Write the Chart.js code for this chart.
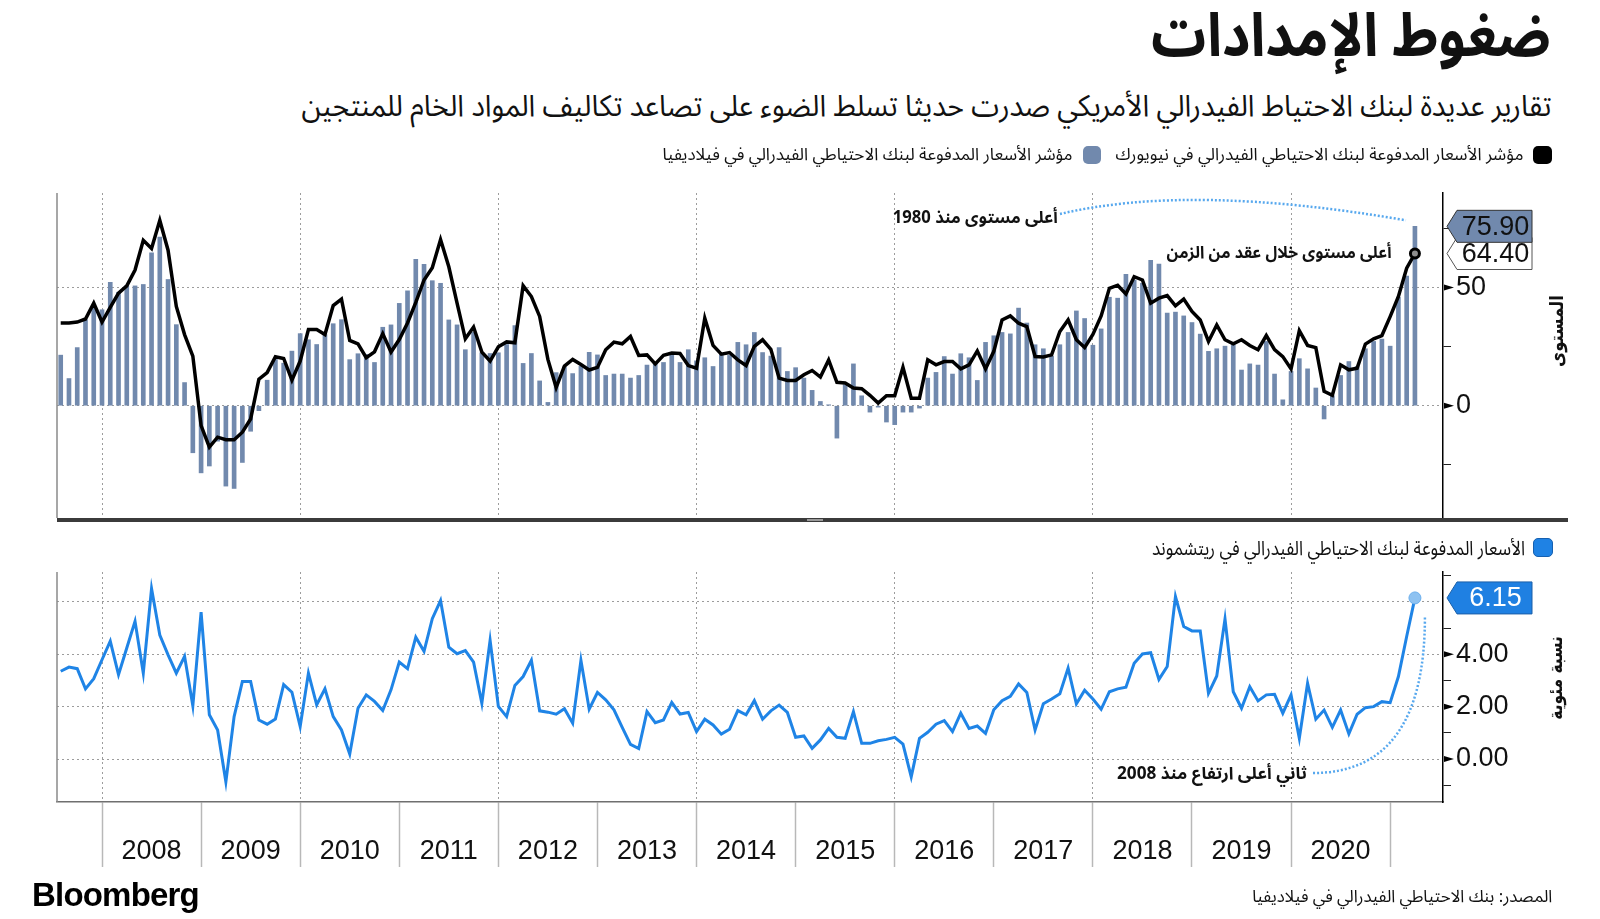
<!DOCTYPE html>
<html lang="ar">
<head>
<meta charset="utf-8">
<script src="https://cdn.jsdelivr.net/npm/chart.js@4.4.1/dist/chart.umd.min.js"></script>
<style>
  body { margin:0; width:1600px; height:919px; background:#fff; position:relative; overflow:hidden; }
  canvas { position:absolute; left:0; z-index:0; }
  .t { position:absolute; white-space:nowrap; z-index:2; color:#111; font-family:"Noto Sans Arabic","DejaVu Sans",sans-serif; transform-origin:right center; }
  .sq { position:absolute; border-radius:5px; z-index:2; }
  .vt { position:absolute; white-space:nowrap; z-index:2; font-family:"DejaVu Sans",sans-serif; font-weight:bold; color:#111; }
</style>
</head>
<body>
<div class="t" dir="rtl" data-w="400" style="right:49px; top:0px; font-size:60px; line-height:74px; font-weight:bold;">ضغوط الإمدادات</div>
<div class="t" dir="rtl" data-w="1250" style="right:49px; top:88px; font-size:30px; line-height:38px;">تقارير عديدة لبنك الاحتياط الفيدرالي الأمريكي صدرت حديثا تسلط الضوء على تصاعد تكاليف المواد الخام للمنتجين</div>

<div class="sq" style="left:1533px; top:146px; width:19px; height:18px; background:#000;"></div>
<div class="t" dir="rtl" data-w="408" style="right:77px; top:143px; font-size:17px; line-height:24px;">مؤشر الأسعار المدفوعة لبنك الاحتياطي الفيدرالي في نيويورك</div>
<div class="sq" style="left:1083px; top:146px; width:18px; height:18px; background:#7189ad;"></div>
<div class="t" dir="rtl" data-w="410" style="right:527px; top:143px; font-size:17px; line-height:24px;">مؤشر الأسعار المدفوعة لبنك الاحتياطي الفيدرالي في فيلاديفيا</div>

<div class="t" dir="rtl" data-w="165" style="right:542px; top:206px; font-size:17px; line-height:24px; font-weight:bold;">أعلى مستوى منذ 1980</div>
<div class="t" dir="rtl" data-w="225" style="right:208px; top:241px; font-size:17px; line-height:24px; font-weight:bold;">أعلى مستوى خلال عقد من الزمن</div>
<div class="vt" id="ttl1" dir="rtl" data-len="72" style="left:1556px; top:331px; font-size:19px;">المستوى</div>

<div class="sq" style="left:1533px; top:538px; width:18px; height:17px; background:#1f82e4; border:1px solid #1660b0;"></div>
<div class="t" dir="rtl" data-w="373" style="right:75px; top:536px; font-size:20px; line-height:26px;">الأسعار المدفوعة لبنك الاحتياطي الفيدرالي في ريتشموند</div>
<div class="t" dir="rtl" data-w="190" style="right:293px; top:762px; font-size:17px; line-height:24px; font-weight:bold;">ثاني أعلى ارتفاع منذ 2008</div>
<div class="vt" id="ttl2" dir="rtl" data-len="83" style="left:1555px; top:678px; font-size:19px;">نسبة مئوية</div>

<div style="position:absolute; left:32px; top:876px; font:bold 33px 'Liberation Sans',Arial,sans-serif; letter-spacing:-0.8px; color:#000; z-index:2;">Bloomberg</div>
<div class="t" dir="rtl" data-w="300" style="right:48px; top:885px; font-size:17px; line-height:24px;">المصدر: بنك الاحتياطي الفيدرالي في فيلاديفيا</div>

<canvas id="topChart" width="1600" height="400" style="top:150px; width:1600px; height:400px;"></canvas>
<canvas id="bottomChart" width="1600" height="370" style="top:530px; width:1600px; height:370px;"></canvas>

<script>
// monthly readings, first month = Jul 2007, last = Mar 2021
const startMonth = '2007-07';

// Philadelphia Fed prices paid index (bars)
const phillyPaid = [
  21.4, 11.5, 24.6, 36.4, 41.6, 40.6,
  52.2, 48.0, 50.7, 50.7, 51.3, 64.7, 71.4, 53.4, 34.3, 9.8, -19.9, -28.4,
  -25.5, -15.0, -34.0, -35.0, -24.0, -10.8, -2.1, 10.8, 19.6, 18.0, 23.1, 30.5,
  27.9, 25.9, 30.1, 34.7, 36.4, 19.5, 22.0, 21.7, 18.3, 33.2, 34.2, 43.3,
  48.6, 61.9, 59.8, 52.9, 51.8, 36.3, 34.2, 23.7, 31.1, 22.4, 22.1, 22.4,
  25.9, 33.9, 17.9, 22.1, 10.5, 1.4, 14.0, 16.4, 13.6, 16.7, 22.6, 21.5,
  12.8, 13.4, 13.4, 11.7, 12.8, 17.2, 18.3, 18.3, 21.5, 18.3, 23.7, 19.0,
  20.3, 16.6, 21.8, 21.3, 26.8, 25.8, 31.0, 22.5, 21.0, 24.6, 14.5, 16.1,
  11.7, 6.5, 1.8, 0.4, -13.7, 8.9, 17.7, 4.2, -2.7, -0.6, -6.9, -8.0,
  -2.7, -2.7, -1.0, 11.7, 14.1, 20.8, 13.4, 22.0, 20.3, 10.7, 26.8, 29.6,
  31.0, 30.4, 41.3, 35.0, 25.8, 24.1, 21.0, 25.8, 31.0, 40.1, 36.9, 25.6,
  32.5, 45.9, 45.5, 55.6, 53.2, 51.8, 61.5, 59.9, 39.2, 39.6, 38.0, 35.2,
  30.3, 23.0, 24.1, 25.2, 25.8, 15.1, 17.7, 17.2, 27.2, 13.4, 2.5, 14.5,
  19.9, 15.6, 7.5, -5.6, 4.2, 12.8, 18.7, 16.6, 24.1, 27.2, 28.2, 25.2,
  45.9, 54.9, 75.9
];

// New York Fed (Empire State) prices paid index (black line)
const nyPaid = [
  35.0, 35.0, 35.4, 36.7, 43.4, 35.4,
  41.6, 47.6, 50.7, 57.4, 70.0, 66.5, 78.4, 65.8, 42.0, 30.1, 21.0, -8.4,
  -17.5, -13.3, -14.4, -14.4, -11.2, -5.6, 11.2, 14.0, 20.7, 20.0, 10.8, 18.9,
  32.2, 32.2, 30.1, 42.4, 45.1, 27.6, 26.2, 20.3, 22.8, 30.5, 22.7, 28.0,
  35.0, 43.7, 53.2, 58.4, 70.3, 58.8, 43.4, 28.3, 33.3, 22.7, 18.9, 24.9,
  27.0, 26.6, 50.8, 46.2, 37.8, 19.6, 7.7, 16.8, 19.6, 17.4, 15.1, 16.2,
  23.7, 26.9, 26.2, 29.3, 21.3, 21.5, 17.7, 21.3, 22.3, 22.1, 17.0, 15.9,
  37.0, 25.5, 21.8, 22.5, 19.4, 17.0, 25.1, 27.9, 23.9, 11.7, 10.7, 10.7,
  13.1, 14.9, 12.1, 19.4, 9.9, 9.6, 7.5, 7.2, 4.4, 1.1, 4.2, 4.2,
  16.3, 3.2, 3.2, 19.4, 17.3, 18.7, 18.7, 15.6, 17.3, 23.2, 15.6, 23.0,
  36.3, 38.0, 34.9, 33.5, 20.8, 20.6, 21.5, 31.4, 36.3, 27.9, 24.6, 30.2,
  38.0, 49.7, 51.0, 47.3, 54.6, 53.2, 43.4, 45.5, 46.6, 42.3, 45.1, 39.9,
  36.3, 27.2, 34.2, 27.9, 26.2, 27.9, 25.5, 23.7, 29.7, 23.7, 20.8, 15.6,
  31.8, 25.5, 24.6, 6.1, 4.4, 17.3, 15.2, 15.9, 26.1, 28.3, 29.7, 37.7,
  46.2, 58.2, 64.4
];

// Richmond Fed prices paid, percent (blue line)
const richmondPaid = [
  3.35, 3.51, 3.45, 2.68, 3.07, 3.79,
  4.50, 3.22, 4.24, 5.26, 3.28, 6.51, 4.73, 3.98, 3.28, 3.92, 2.03, 5.61,
  1.69, 1.11, -0.87, 1.62, 2.96, 2.96, 1.49, 1.33, 1.53, 2.84, 2.55, 1.24,
  3.28, 2.07, 2.68, 1.62, 1.11, 0.19, 1.94, 2.45, 2.20, 1.85, 2.64, 3.70,
  3.45, 4.65, 4.11, 5.36, 6.05, 4.27, 4.02, 4.14, 3.70, 2.13, 4.53, 2.01,
  1.62, 2.81, 3.15, 3.77, 1.84, 1.79, 1.71, 1.92, 1.37, 3.77, 1.90, 2.54,
  2.26, 1.88, 1.21, 0.56, 0.40, 1.81, 1.39, 1.49, 2.16, 1.72, 1.78, 1.05,
  1.52, 1.30, 0.95, 1.14, 1.85, 1.69, 2.23, 1.52, 1.84, 2.06, 1.78, 0.83,
  0.88, 0.41, 0.73, 1.17, 0.83, 0.79, 1.81, 0.60, 0.60, 0.70, 0.75, 0.83,
  0.57, -0.68, 0.79, 1.02, 1.33, 1.47, 1.05, 1.75, 1.17, 1.26, 0.98, 1.88,
  2.23, 2.39, 2.87, 2.54, 1.11, 2.11, 2.29, 2.49, 3.47, 2.11, 2.63, 2.29,
  1.90, 2.57, 2.68, 2.74, 3.66, 4.01, 4.06, 3.04, 3.53, 6.20, 5.06, 4.89,
  4.89, 2.51, 3.17, 5.35, 2.57, 1.94, 2.76, 2.22, 2.45, 2.47, 1.75, 2.45,
  0.79, 2.89, 1.52, 1.87, 1.21, 1.87, 0.96, 1.71, 1.96, 2.00, 2.19, 2.15,
  3.15, 4.68, 6.15
];

const yearLabels = ['2008','2009','2010','2011','2012','2013','2014','2015','2016','2017','2018','2019','2020'];
const topLabelled = [0, 50];
const topMinor = [-25, 25, 75];
const bottomLabelled = [0, 2, 4];
const bottomMinor = [-1, 1, 3, 5, 7];

// months since Jan 2008
function monthIndex(str) {
  const [y, m] = str.split('-').map(Number);
  return (y - 2008) * 12 + (m - 1);
}
const first = monthIndex(startMonth);
// points sit at the end of each month
const xs = phillyPaid.map((_, i) => first + i + 1);
const last = xs.length - 1;

const X_MIN = -5.45, X_MAX = 162.4;
const GRID = '#9c9c9c';
const FONT_NUM = 'Liberation Sans';
// page offsets of the two canvases, used for the callout text anchors
const TOP_OFF = 150, BOT_OFF = 530;

function pointers(chart, values) {
  const { ctx, chartArea, scales: { y } } = chart;
  ctx.save();
  ctx.fillStyle = '#000';
  values.forEach(v => {
    const py = y.getPixelForValue(v);
    ctx.beginPath();
    ctx.moveTo(chartArea.right + 1, py - 3);
    ctx.lineTo(chartArea.right + 11, py);
    ctx.lineTo(chartArea.right + 1, py + 3);
    ctx.closePath();
    ctx.fill();
  });
  ctx.restore();
}

function valueTag(chart, value, fill, textColor, stroke) {
  const { ctx, chartArea, scales: { y } } = chart;
  const py = y.getPixelForValue(value);
  const x0 = chartArea.right + 4, x1 = x0 + 10, x2 = x0 + 85, h = 32;
  ctx.save();
  ctx.beginPath();
  ctx.moveTo(x0, py);
  ctx.lineTo(x1, py - h / 2);
  ctx.lineTo(x2, py - h / 2);
  ctx.lineTo(x2, py + h / 2);
  ctx.lineTo(x1, py + h / 2);
  ctx.closePath();
  ctx.fillStyle = fill;
  ctx.fill();
  ctx.lineWidth = 1;
  ctx.strokeStyle = stroke;
  ctx.stroke();
  ctx.fillStyle = textColor;
  ctx.font = `27px "${FONT_NUM}"`;
  ctx.textAlign = 'center';
  ctx.textBaseline = 'middle';
  ctx.fillText(value.toFixed(2), (x1 + x2) / 2 + 1, py + 1);
  ctx.restore();
}

function dottedCurve(ctx, p0, c, p1) {
  ctx.save();
  ctx.strokeStyle = '#57a8ee';
  ctx.lineWidth = 2.5;
  ctx.setLineDash([2, 2]);
  ctx.beginPath();
  ctx.moveTo(p0[0], p0[1]);
  ctx.quadraticCurveTo(c[0], c[1], p1[0], p1[1]);
  ctx.stroke();
  ctx.restore();
}

function leftRule(chart) {
  const { ctx, chartArea } = chart;
  ctx.save();
  ctx.strokeStyle = '#8a8a8a';
  ctx.lineWidth = 1.5;
  ctx.beginPath();
  ctx.moveTo(chartArea.left, chartArea.top);
  ctx.lineTo(chartArea.left, chartArea.bottom);
  ctx.stroke();
  ctx.restore();
}

const topDecor = {
  id: 'topDecor',
  afterDraw(chart) {
    const { ctx, chartArea, scales: { x, y } } = chart;
    leftRule(chart);
    pointers(chart, topLabelled);
    valueTag(chart, nyPaid[last], '#ffffff', '#111', '#555');
    valueTag(chart, phillyPaid[last], '#7189ad', '#111', '#333');
    // panel separator
    ctx.save();
    ctx.fillStyle = '#3b3b3b';
    ctx.fillRect(chartArea.left, chartArea.bottom, 1568 - chartArea.left, 4);
    ctx.fillStyle = '#9a9a9a';
    ctx.fillRect(807, chartArea.bottom + 1, 16, 2);
    ctx.restore();
    // leader from the callout to the latest Philadelphia reading
    const bx = x.getPixelForValue(xs[last]) - 9;
    const by = y.getPixelForValue(phillyPaid[last]) - 6;
    dottedCurve(ctx, [1060, 214 - TOP_OFF], [1190, 183 - TOP_OFF], [bx, by]);
  }
};

const bottomDecor = {
  id: 'bottomDecor',
  afterDraw(chart) {
    const { ctx, scales: { x, y } } = chart;
    leftRule(chart);
    pointers(chart, bottomLabelled);
    valueTag(chart, richmondPaid[last], '#1f80e2', '#ffffff', '#1a5fa8');
    const px = x.getPixelForValue(xs[last]) + 10;
    const py = y.getPixelForValue(richmondPaid[last]) + 19;
    const sy = 773 - BOT_OFF;
    dottedCurve(ctx, [1313, sy], [px, sy], [px, py]);
  }
};

const yearEdges = yearLabels.map((_, i) => i * 12).concat([yearLabels.length * 12]);
const yearMids = yearLabels.map((_, i) => i * 12 + 6);

new Chart(document.getElementById('topChart'), {
  type: 'bar',
  data: {
    datasets: [
      {
        type: 'line',
        data: xs.map((v, i) => ({ x: v, y: nyPaid[i] })),
        borderColor: '#000',
        borderWidth: 3.5,
        pointRadius: ctx => ctx.dataIndex === last ? 4.5 : 0,
        pointBackgroundColor: '#8f8f8f',
        pointBorderColor: '#000',
        pointBorderWidth: 3,
        order: 0
      },
      {
        type: 'bar',
        data: xs.map((v, i) => ({ x: v, y: phillyPaid[i] })),
        backgroundColor: '#7189ad',
        barThickness: 4,
        order: 1
      }
    ]
  },
  options: {
    responsive: false,
    animation: false,
    devicePixelRatio: 1,
    layout: { padding: { left: 57, right: 0, top: 43, bottom: 32 } },
    plugins: { legend: { display: false }, tooltip: { enabled: false } },
    scales: {
      x: {
        type: 'linear', min: X_MIN, max: X_MAX, offset: false,
        afterBuildTicks: s => { s.ticks = yearEdges.filter((_, i) => i % 2 === 0 && i < 13).map(v => ({ value: v })); },
        ticks: { display: false },
        grid: { offset: false, color: GRID, lineWidth: 1, drawTicks: false },
        border: { display: false, dash: [2, 3] },
        afterFit: s => { s.height = 0; }
      },
      y: {
        position: 'right', min: -47.5, max: 90,
        afterBuildTicks: s => { s.ticks = topMinor.concat(topLabelled).sort((a, b) => a - b).map(v => ({ value: v })); },
        ticks: {
          autoSkip: false,
          callback: v => topLabelled.includes(v) ? String(v) : '',
          color: '#111', padding: 5,
          font: { family: FONT_NUM, size: 27, lineHeight: 1 }
        },
        grid: {
          color: ctx => topLabelled.includes(ctx.tick && ctx.tick.value) ? GRID : 'rgba(0,0,0,0)',
          tickColor: ctx => topLabelled.includes(ctx.tick && ctx.tick.value) ? 'rgba(0,0,0,0)' : '#222',
          tickLength: 8, lineWidth: 1
        },
        border: { color: '#000', width: 1.5, dash: [2, 3] },
        afterFit: s => { s.width = 157; }
      }
    }
  },
  plugins: [topDecor]
});

new Chart(document.getElementById('bottomChart'), {
  type: 'line',
  data: {
    datasets: [{
      data: xs.map((v, i) => ({ x: v, y: richmondPaid[i] })),
      borderColor: '#1f84e6',
      borderWidth: 3,
      pointRadius: ctx => ctx.dataIndex === last ? 6 : 0,
      pointBackgroundColor: '#8ec2f1',
      pointBorderColor: '#6aaeec',
      pointBorderWidth: 1
    }]
  },
  options: {
    responsive: false,
    animation: false,
    devicePixelRatio: 1,
    layout: { padding: { left: 57, right: 0, top: 42, bottom: 28 } },
    plugins: { legend: { display: false }, tooltip: { enabled: false } },
    scales: {
      x: {
        type: 'linear', min: X_MIN, max: X_MAX, offset: false,
        afterBuildTicks: s => { s.ticks = yearEdges.concat(yearMids).sort((a, b) => a - b).map(v => ({ value: v })); },
        ticks: {
          autoSkip: false, maxRotation: 0, minRotation: 0,
          callback: v => yearMids.includes(v) ? yearLabels[yearMids.indexOf(v)] : '',
          color: '#111', padding: -32,
          font: { family: FONT_NUM, size: 27 }
        },
        grid: {
          offset: false, lineWidth: 1, tickLength: 65, tickWidth: 1.5,
          color: ctx => {
            const v = ctx.tick && ctx.tick.value;
            return (yearEdges.includes(v) && v % 24 === 0 && v < 150) ? GRID : 'rgba(0,0,0,0)';
          },
          tickColor: ctx => yearEdges.includes(ctx.tick && ctx.tick.value) ? '#b8b8b8' : 'rgba(0,0,0,0)'
        },
        border: { display: true, color: '#6f6f6f', width: 1.5, dash: [2, 3] },
        afterFit: s => { s.height = 70; }
      },
      y: {
        position: 'right', min: -1.64, max: 7.14,
        afterBuildTicks: s => { s.ticks = bottomMinor.concat(bottomLabelled, [6]).sort((a, b) => a - b).map(v => ({ value: v })); },
        ticks: {
          autoSkip: false,
          callback: v => bottomLabelled.includes(v) ? v.toFixed(2) : '',
          color: '#111', padding: 5,
          font: { family: FONT_NUM, size: 27, lineHeight: 1 }
        },
        grid: {
          color: ctx => [0, 2, 4, 6].includes(ctx.tick && ctx.tick.value) ? GRID : 'rgba(0,0,0,0)',
          tickColor: ctx => bottomMinor.includes(ctx.tick && ctx.tick.value) ? '#222' : 'rgba(0,0,0,0)',
          tickLength: 8, lineWidth: 1
        },
        border: { color: '#000', width: 1.5, dash: [2, 3] },
        afterFit: s => { s.width = 157; }
      }
    }
  },
  plugins: [bottomDecor]
});

// squeeze the Arabic text blocks to the widths measured on the original
function fitTexts() {
  document.querySelectorAll('.t[data-w]').forEach(el => {
    el.style.transform = 'none';
    const w = el.getBoundingClientRect().width;
    el.style.transform = `scaleX(${el.dataset.w / w})`;
  });
  document.querySelectorAll('.vt').forEach(el => {
    const w = el.offsetWidth;
    el.style.transform = `translate(-50%, -50%) rotate(-90deg) scaleX(${el.dataset.len / w})`;
  });
}
fitTexts();
if (document.fonts) document.fonts.ready.then(fitTexts);
</script>
</body>
</html>
